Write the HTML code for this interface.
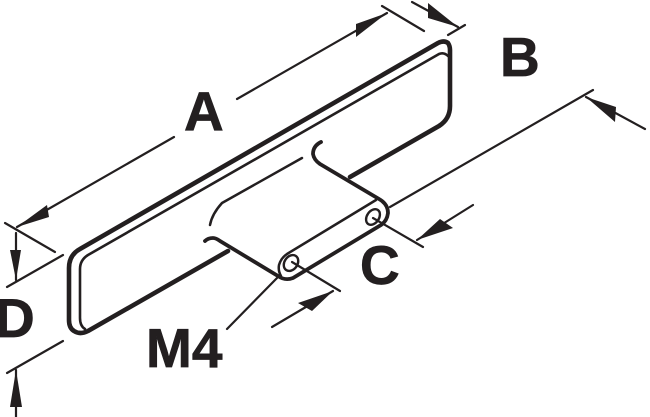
<!DOCTYPE html>
<html>
<head>
<meta charset="utf-8">
<style>
html,body{margin:0;padding:0;background:#fff;width:650px;height:417px;overflow:hidden}
svg{display:block}
text{font-family:"Liberation Sans",sans-serif;font-weight:700;font-size:55px;fill:#231f20;stroke:#231f20;stroke-width:.7px}
</style>
</head>
<body>
<svg width="650" height="417" viewBox="0 0 650 417" xmlns="http://www.w3.org/2000/svg">
<g fill="none" stroke="#231f20" stroke-linecap="round" stroke-linejoin="round">
  <!-- plate outer -->
  <path stroke-width="4.6" d="M228 251 L88 331 Q80 335 74 331 Q69 328 69 320 L69 268 Q69 255 80 249 L438 43 Q444 40 448 43 Q450 46 450 50 L450 106 Q450 119 439 126 L350 177"/>
  <!-- plate inner -->
  <path stroke-width="2.6" d="M85 329 Q80 326 80 318 L80 269 Q80 260 88 255 L439 54 Q444 52 448 56"/>
  <!-- connector hooks and cylinder -->
  <path stroke-width="3.8" d="M205 241 Q208 238 213 238 Q216 238 220 241 L278 276 Q285 281 293 278 L381 225 Q387 221 388 213 Q388 204 379 199 L320 164 Q314 160 313 154 Q313 146 321 142"/>
  <!-- cylinder upper line and left end -->
  <path stroke-width="2.5" d="M281 276 Q278 271 279 265 Q281 258 287 254 L376 200"/>
  <path stroke-width="2.5" d="M210 225 Q212 214 222 203 L302 158"/>
  <!-- holes -->
  <ellipse stroke-width="2.4" cx="291" cy="263" rx="6.5" ry="8.5" transform="rotate(35 291 263)"/>
  <ellipse stroke-width="2.4" cx="373" cy="217" rx="6" ry="8.5" transform="rotate(35 373 217)"/>
  <!-- leaders -->
  <g stroke-width="2.2">
    <path d="M227 329 L277 278"/>
    <path d="M292 262 L340 291"/>
    <path d="M272 327 L333 291"/>
    <path d="M373 218 L423 247"/>
    <path d="M417 240 L473 205"/>
    <path d="M390 207 L593 90"/>
    <path d="M586 97 L645 129"/>
    <path d="M237 99 L387 13"/>
    <path d="M174 137 L17 227"/>
    <path d="M382 6 L424 31"/>
    <path d="M448 35 L465 25"/>
    <path d="M412 2 L458 27"/>
    <path d="M5 223 L55 252"/>
    <path d="M7 287 L63 255"/>
    <path d="M7 373 L63 341"/>
    <path d="M16 233 L16 280"/>
    <path d="M16 370 L16 417"/>
  </g>
</g>
<g fill="#231f20">
  <polygon points="387,13 356,24 356,37"/>
  <polygon points="17,227 47,205 49,217"/>
  <polygon points="458,27 428,3 428,18"/>
  <polygon points="16,280 10,250 21,250"/>
  <polygon points="16,370 10,407 22,407"/>
  <polygon points="333,291 298,303 312,311"/>
  <polygon points="417,240 440,219 453,228"/>
  <polygon points="586,97 616,107 615,122"/>
</g>
<text x="184" y="130">A</text>
<text x="500" y="76">B</text>
<text x="360" y="284">C</text>
<text x="-5" y="337">D</text>
<text x="146" y="367">M4</text>
</svg>
</body>
</html>
